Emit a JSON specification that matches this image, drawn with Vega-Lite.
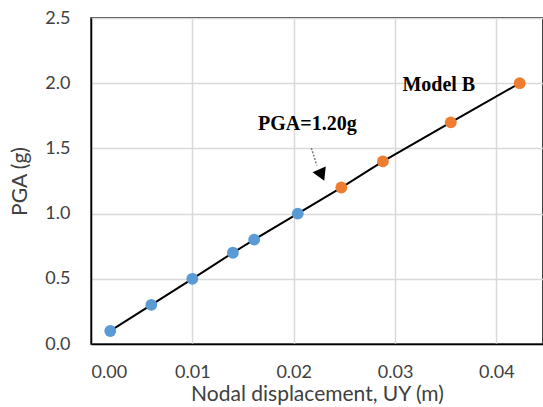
{
  "$schema": "https://vega.github.io/schema/vega-lite/v6.json",
  "autosize": "none",
  "padding": {"left": 91, "top": 18, "right": 0, "bottom": 63},
  "width": 452,
  "height": 326,
  "background": "white",
  "config": {
    "view": {"stroke": "black", "strokeWidth": 1.5},
    "axis": {
      "labelFont": "Lato", "titleFont": "Lato",
      "labelColor": "#404040", "titleColor": "#404040",
      "labelFontSize": 18, "titleFontSize": 21, "titleFontWeight": "normal",
      "gridColor": "#d9d9d9", "gridWidth": 1.5,
      "domainColor": "black", "domainWidth": 1.5,
      "ticks": false
    }
  },
  "datasets": {
    "pts": [
      {"uy": 0.0019, "pga": 0.1, "model": "A"},
      {"uy": 0.00595, "pga": 0.3, "model": "A"},
      {"uy": 0.0100, "pga": 0.5, "model": "A"},
      {"uy": 0.0140, "pga": 0.7, "model": "A"},
      {"uy": 0.0161, "pga": 0.8, "model": "A"},
      {"uy": 0.0204, "pga": 1.0, "model": "A"},
      {"uy": 0.0247, "pga": 1.2, "model": "B"},
      {"uy": 0.0288, "pga": 1.4, "model": "B"},
      {"uy": 0.0355, "pga": 1.7, "model": "B"},
      {"uy": 0.0423, "pga": 2.0, "model": "B"}
    ],
    "labels": [
      {"uy": 0.02135, "pga": 1.69, "text": "PGA=1.20g"},
      {"uy": 0.03432, "pga": 1.99, "text": "Model B"}
    ],
    "arrow": [
      {"uy": 0.02174, "pga": 1.503, "uy2": 0.02228, "pga2": 1.37}
    ],
    "head": [
      {"uy": 0.02268, "pga": 1.31}
    ]
  },
  "encoding": {
    "x": {"field": "uy", "type": "quantitative",
      "scale": {"domain": [0, 0.0446], "nice": false, "zero": false},
      "axis": {"values": [0, 0.01, 0.02, 0.03, 0.04], "format": ".2f", "labelPadding": 19, "titlePadding": 2, "title": "Nodal displacement, UY (m)"}},
    "y": {"field": "pga", "type": "quantitative",
      "scale": {"domain": [0, 2.5], "nice": false},
      "axis": {"values": [0, 0.5, 1, 1.5, 2, 2.5], "format": ".1f", "labelPadding": 21, "titlePadding": 14, "title": "PGA (g)"}}
  },
  "layer": [
    {
      "data": {"name": "pts"},
      "mark": {"type": "line", "color": "black", "strokeWidth": 2},
      "encoding": {"order": {"field": "pga", "type": "quantitative"}}
    },
    {
      "data": {"name": "pts"},
      "mark": {"type": "point", "filled": true, "size": 140, "opacity": 1},
      "encoding": {
        "color": {"field": "model", "type": "nominal",
          "scale": {"domain": ["A", "B"], "range": ["#5B9BD5", "#ED7D31"]}, "legend": null}
      }
    },
    {
      "data": {"name": "arrow"},
      "mark": {"type": "rule", "color": "#7f7f7f", "strokeWidth": 1.5, "strokeDash": [2, 1.5]},
      "encoding": {"x2": {"field": "uy2"}, "y2": {"field": "pga2"}}
    },
    {
      "data": {"name": "head"},
      "mark": {"type": "point", "shape": "triangle", "angle": 156, "filled": true, "size": 320, "color": "black", "stroke": "white", "strokeWidth": 2, "opacity": 1},
      "encoding": {}
    },
    {
      "data": {"name": "labels"},
      "mark": {"type": "text", "font": "Liberation Serif", "fontWeight": "bold", "fontSize": 20, "color": "black"},
      "encoding": {"text": {"field": "text"}}
    }
  ]
}
